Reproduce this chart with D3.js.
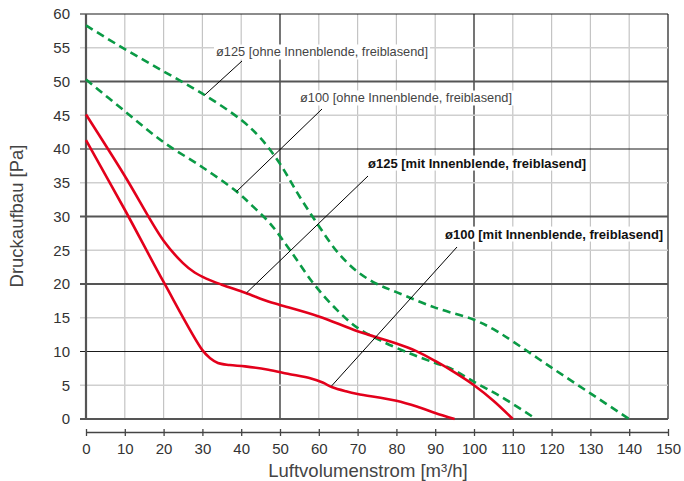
<!DOCTYPE html>
<html>
<head>
<meta charset="utf-8">
<script src="https://cdn.jsdelivr.net/npm/d3@7/dist/d3.min.js"></script>
<style>
html,body{margin:0;padding:0;background:#fff;}
svg{display:block;font-family:"Liberation Sans",Arial,sans-serif;}
</style>
</head>
<body>
<svg id="chart" width="684" height="481"></svg>
<script>
// ---- data ----
const xTicks = [0,10,20,30,40,50,60,70,80,90,100,110,120,130,140,150];
const yTicks = [0,5,10,15,20,25,30,35,40,45,50,55,60];

const seriesNames = [
  "ø125 [ohne Innenblende, freiblasend]",
  "ø100 [ohne Innenblende, freiblasend]",
  "ø125 [mit Innenblende, freiblasend]",
  "ø100 [mit Innenblende, freiblasend]"
];

const g125ohne = [[0,58.3],[10,54.8],[20,51.5],[30,48.2],[40,44.3],[45,41.6],[50,37.8],[55,33],[60,28.6],[65,24.6],[70,21.8],[75,20],[80,18.8],[90,16.5],[100,14.7],[105,13.3],[110,11.5],[120,7.6],[130,3.8],[140,0]];
const g100ohne = [[0,50.3],[10,45.6],[20,41],[30,37.3],[38.8,33.7],[43,31.5],[47.4,29],[52.6,25],[58.6,20.1],[64.6,16.2],[70,13.5],[76,11.6],[83.5,9.7],[90,8.3],[94,7.5],[100,5.5],[107,3.3],[116,0]];
const r125mit = [[0,45.1],[10,36],[20,26.4],[25,23.1],[28,21.7],[31,20.8],[35,19.9],[41,18.7],[47,17.4],[50,16.9],[60,15.2],[70,13],[80,11.2],[85,10.1],[90,8.6],[95,6.9],[100,5],[105,2.7],[110,0]];
const r100mit = [[0,41.3],[10,31],[20,20.3],[30,10.2],[32,9],[34,8.3],[37,8],[41,7.8],[47,7.3],[52,6.7],[58,6],[61,5.4],[63.5,4.7],[67,4.1],[70,3.7],[80,2.7],[86,1.7],[90,0.9],[95,0]];

// annotation anchors (data coords of curve point)
const annoAnchors = [[30.6,48],[38.8,33.7],[41.4,18.7],[63.3,4.9]];

// ---- layout ----
const svg = d3.select("#chart");
const x = d3.scaleLinear().domain([0,150]).range([86,668]);
const y = d3.scaleLinear().domain([0,60]).range([419,14]);

const grid = svg.append("g");
// vertical grid
grid.selectAll("line.vx").data(xTicks.filter(d=>d>0)).enter().append("line")
  .attr("x1",d=>x(d)).attr("x2",d=>x(d)).attr("y1",y(0)).attr("y2",y(60))
  .attr("stroke",d=> (d===50||d===100||d===150) ? "#1a1a1a" : "#c4c4c4")
  .attr("stroke-width",1.2);
// horizontal grid
grid.selectAll("line.hy").data(yTicks.filter(d=>d>0)).enter().append("line")
  .attr("x1",80).attr("x2",x(150)).attr("y1",d=>y(d)).attr("y2",d=>y(d))
  .attr("stroke",d=> d%10===0 ? (d===50||d===20||d===30 ? "#555" : "#1a1a1a") : "#cfcfcf")
  .attr("stroke-width",d=> d%10===0 ? (d===50||d===20||d===30 ? 1.8 : 1.1) : 1.6);

// plot frame axes
svg.append("line").attr("x1",80).attr("x2",x(150)).attr("y1",y(0)).attr("y2",y(0))
  .attr("stroke","#555").attr("stroke-width",2.2);
svg.append("line").attr("x1",x(0)).attr("x2",x(0)).attr("y1",y(0)+1).attr("y2",y(60))
  .attr("stroke","#555").attr("stroke-width",2.2);

// y labels
svg.append("g").selectAll("text").data(yTicks).enter().append("text")
  .attr("x",70).attr("y",d=>y(d)).attr("dy","0.36em").attr("text-anchor","end")
  .attr("font-size",15).attr("fill","#333").text(d=>d);

// x axis (separate, below)
const xAxis = d3.axisBottom(x).tickValues(xTicks).tickSize(4).tickPadding(7).tickSizeOuter(0);
const xg = svg.append("g").attr("transform","translate(0,432)").call(xAxis);
xg.select(".domain").attr("stroke","#444").attr("stroke-width",1.3);
xg.selectAll(".tick line").attr("stroke","#444").attr("stroke-width",1.3).attr("y1",-3).attr("y2",4);
xg.selectAll(".tick text").attr("font-size",15).attr("fill","#333")
  .attr("font-family","Liberation Sans, Arial, sans-serif");

// axis titles
svg.append("text").attr("x",368).attr("y",477).attr("text-anchor","middle")
  .attr("font-size",18.5).attr("fill","#444").text("Luftvolumenstrom [m³/h]");
svg.append("text").attr("transform","translate(23,216) rotate(-90)").attr("text-anchor","middle")
  .attr("font-size",18.5).attr("fill","#444").text("Druckaufbau [Pa]");

// curves
const line = d3.line().x(d=>x(d[0])).y(d=>y(d[1])).curve(d3.curveCatmullRom.alpha(0.5));
const curves = [
  {data:g125ohne, color:"#0a9a45", dash:"8,5"},
  {data:g100ohne, color:"#0a9a45", dash:"8,5"},
  {data:r125mit, color:"#e3001b", dash:null},
  {data:r100mit, color:"#e3001b", dash:null}
];
svg.append("g").selectAll("path").data(curves).enter().append("path")
  .attr("d",d=>line(d.data)).attr("fill","none")
  .attr("stroke",d=>d.color).attr("stroke-width",2.6)
  .attr("stroke-dasharray",d=>d.dash);

// annotations
const annos = [
  {anchor:annoAnchors[0], end:[242,61], tx:216, ty:52, bold:false},
  {anchor:annoAnchors[1], end:[322,109], tx:300, ty:98, bold:false},
  {anchor:annoAnchors[2], end:[368,176], tx:368, ty:163, bold:true},
  {anchor:annoAnchors[3], end:[457,247], tx:445, ty:234, bold:true}
];
const ag = svg.append("g");
annos.forEach((a,i)=>{
  ag.append("line").attr("x1",x(a.anchor[0])).attr("y1",y(a.anchor[1]))
    .attr("x2",a.end[0]).attr("y2",a.end[1]).attr("stroke","#000").attr("stroke-width",1);
  const t = ag.append("text").attr("x",a.tx).attr("y",a.ty).attr("dy","0.35em")
    .attr("font-size",a.bold?13:12.8).attr("font-weight",a.bold?"bold":"normal")
    .attr("fill",a.bold?"#111":"#444").text(seriesNames[i]);
  const bb = t.node().getBBox();
  ag.insert("rect","text").attr("x",bb.x-2).attr("y",bb.y).attr("width",bb.width+4).attr("height",bb.height).attr("fill","#fff");
});
</script>
</body>
</html>
